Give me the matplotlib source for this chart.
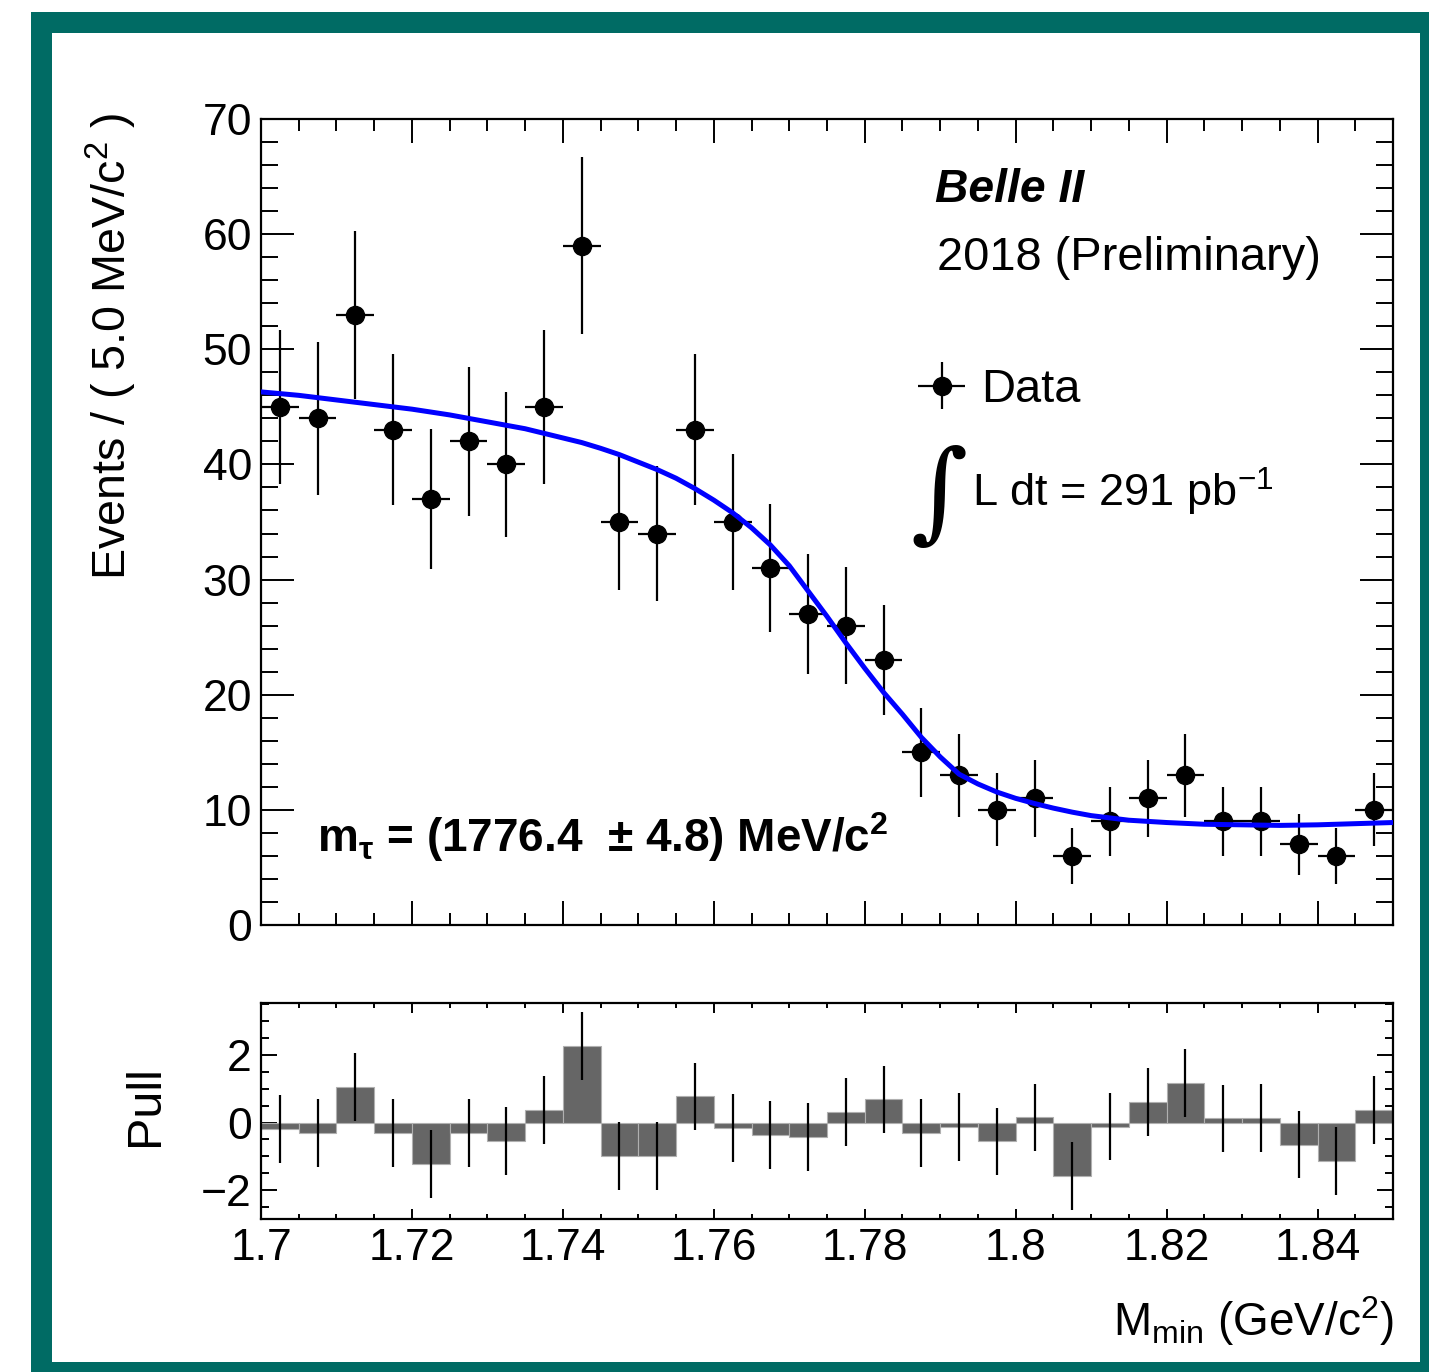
import numpy as np
import matplotlib
matplotlib.use("Agg")
import matplotlib.pyplot as plt
from matplotlib.patches import Rectangle
from matplotlib.ticker import MultipleLocator, FixedLocator, FixedFormatter

plt.rcParams['font.family'] = ['Liberation Sans', 'DejaVu Sans']
plt.rcParams['mathtext.default'] = 'regular'

# binned data, 5 MeV bins from 1.70 to 1.85 GeV
bin_edges = np.round(np.arange(1.700, 1.8501, 0.005), 4)
bin_centres = 0.5 * (bin_edges[:-1] + bin_edges[1:])
counts = [45, 44, 53, 43, 37, 42, 40, 45, 59, 35, 34, 43, 35, 31, 27,
          26, 23, 15, 13, 10, 11, 6, 9, 11, 13, 9, 9, 7, 6, 10]
pulls = [-0.19, -0.30, 1.05, -0.32, -1.23, -0.32, -0.54, 0.36, 2.25, -0.99,
         -0.98, 0.77, -0.17, -0.37, -0.42, 0.32, 0.68, -0.30, -0.14, -0.56,
         0.15, -1.58, -0.12, 0.61, 1.17, 0.12, 0.14, -0.65, -1.14, 0.37]

# fit curve
fit_x = [1.700, 1.705, 1.710, 1.715, 1.720, 1.725, 1.730, 1.735, 1.740, 1.7425,
         1.745, 1.7475, 1.750, 1.7525, 1.755, 1.7575, 1.760, 1.7625, 1.765, 1.7675,
         1.770, 1.7725, 1.775, 1.7775, 1.780, 1.7825, 1.785, 1.7875, 1.790, 1.7925,
         1.795, 1.7975, 1.800, 1.8025, 1.805, 1.8075, 1.810, 1.815, 1.820, 1.825,
         1.830, 1.835, 1.840, 1.845, 1.850]
fit_y = [46.3, 46.0, 45.6, 45.2, 44.8, 44.3, 43.7, 43.1, 42.3, 41.9,
         41.4, 40.85, 40.2, 39.55, 38.8, 37.9, 36.9, 35.8, 34.5, 33.0,
         31.2, 29.0, 26.8, 24.5, 22.3, 20.2, 18.3, 16.3, 14.6, 13.1,
         12.25, 11.55, 11.0, 10.55, 10.15, 9.8, 9.5, 9.1, 8.9, 8.75,
         8.7, 8.65, 8.7, 8.8, 8.9]

xticks = [1.70, 1.72, 1.74, 1.76, 1.78, 1.80, 1.82, 1.84]
xticklabels = ["1.7", "1.72", "1.74", "1.76", "1.78", "1.8", "1.82", "1.84"]

W, H = 1429, 1372
def fx(p): return p / W
def fy(p): return 1 - p / H

fig = plt.figure(figsize=(W / 100, H / 100), dpi=100)
fig.patch.set_facecolor('white')

# teal frame
teal = '#006b64'
fig.patches.append(Rectangle((fx(31), 0), 1 - fx(31), fy(12), transform=fig.transFigure,
                             facecolor=teal, edgecolor='none', zorder=-10, figure=fig))
fig.patches.append(Rectangle((fx(52), fy(1362)), fx(1420) - fx(52), fy(33) - fy(1362),
                             transform=fig.transFigure, facecolor='white',
                             edgecolor='none', zorder=-9, figure=fig))

ax = fig.add_axes([fx(261), fy(925), fx(1393) - fx(261), fy(119) - fy(925)])
axp = fig.add_axes([fx(261), fy(1219), fx(1393) - fx(261), fy(1003) - fy(1219)])

yerr = np.sqrt(counts)
eb = ax.errorbar(bin_centres, counts, xerr=0.0025, yerr=yerr, fmt='o', color='black',
                 ms=13, elinewidth=1.6, capsize=0, zorder=3, label='Data')
ax.plot(fit_x, fit_y, color='#0000ff', lw=3.6, zorder=4, solid_joinstyle='round')

ax.set_xlim(1.70, 1.85)
ax.set_ylim(0, 70)
ax.xaxis.set_major_locator(FixedLocator(xticks))
ax.xaxis.set_minor_locator(MultipleLocator(0.005))
ax.yaxis.set_major_locator(MultipleLocator(10))
ax.yaxis.set_minor_locator(MultipleLocator(2))
ax.tick_params(axis='both', which='both', direction='in', top=True, right=True,
               width=1.4, labelsize=32, pad=6.5)
ax.tick_params(axis='x', which='major', length=17)
ax.tick_params(axis='x', which='minor', length=8.5)
ax.tick_params(axis='y', which='major', length=24)
ax.tick_params(axis='y', which='minor', length=12)
ax.tick_params(axis='x', labelbottom=False)
for s in ax.spines.values():
    s.set_linewidth(1.6)

# pull panel
axp.bar(bin_centres, pulls, width=0.005, color='#666666', edgecolor='#b0b0b0',
        linewidth=0.8, zorder=2)
axp.errorbar(bin_centres, pulls, yerr=1.0, fmt='none', ecolor='black',
             elinewidth=1.6, capsize=0, zorder=3)
axp.set_xlim(1.70, 1.85)
axp.set_ylim(-2.85, 3.53)
axp.xaxis.set_major_locator(FixedLocator(xticks))
axp.xaxis.set_major_formatter(FixedFormatter(xticklabels))
axp.xaxis.set_minor_locator(MultipleLocator(0.005))
axp.yaxis.set_major_locator(FixedLocator([-2, 0, 2]))
axp.yaxis.set_minor_locator(MultipleLocator(0.5))
axp.tick_params(axis='both', which='both', direction='in', top=True, right=True,
                width=1.4, labelsize=32, pad=6.5)
axp.tick_params(axis='x', which='major', length=7.2)
axp.tick_params(axis='x', which='minor', length=3.6)
axp.tick_params(axis='y', which='major', length=11.5)
axp.tick_params(axis='y', which='minor', length=5.8)
for s in axp.spines.values():
    s.set_linewidth(1.6)

# labels
fig.text(fx(111), fy(113), "Events / ( 5.0 MeV/c$^{2}$ )", rotation=90,
         ha='center', va='top', fontsize=33.6)
fig.text(fx(145), fy(1106), "Pull", rotation=90, ha='center', va='center', fontsize=35)
fig.text(fx(1394), fy(1336), "M$_{min}$ (GeV/c$^{2}$)", ha='right', va='baseline',
         fontsize=33)

fig.text(fx(935), fy(202), "Belle II", fontsize=33.3, fontweight='bold',
         fontstyle='italic', ha='left', va='baseline')
fig.text(fx(937), fy(270), "2018 (Preliminary)", fontsize=33.8, ha='left', va='baseline')
fig.text(fx(939), fy(497), "\u222b", family='DejaVu Serif', fontsize=79,
         ha='center', va='center')
fig.text(fx(972), fy(507), "L dt = 291 pb$^{-1}$", fontsize=32.5, ha='left', va='baseline')
fig.text(fx(317), fy(852), "m$_{\u03c4}$ = (1776.4  \u00b1 4.8) MeV/c$^{2}$",
         fontsize=33, fontweight='bold', ha='left', va='baseline')

ax.legend(handles=[eb], labels=['Data'], loc='center left',
          bbox_to_anchor=(fx(922), fy(390)), bbox_transform=fig.transFigure,
          frameon=False, fontsize=33.8, handlelength=0.85, handletextpad=0.4,
          borderpad=0, borderaxespad=0)

fig.savefig("out.png", dpi=100)
